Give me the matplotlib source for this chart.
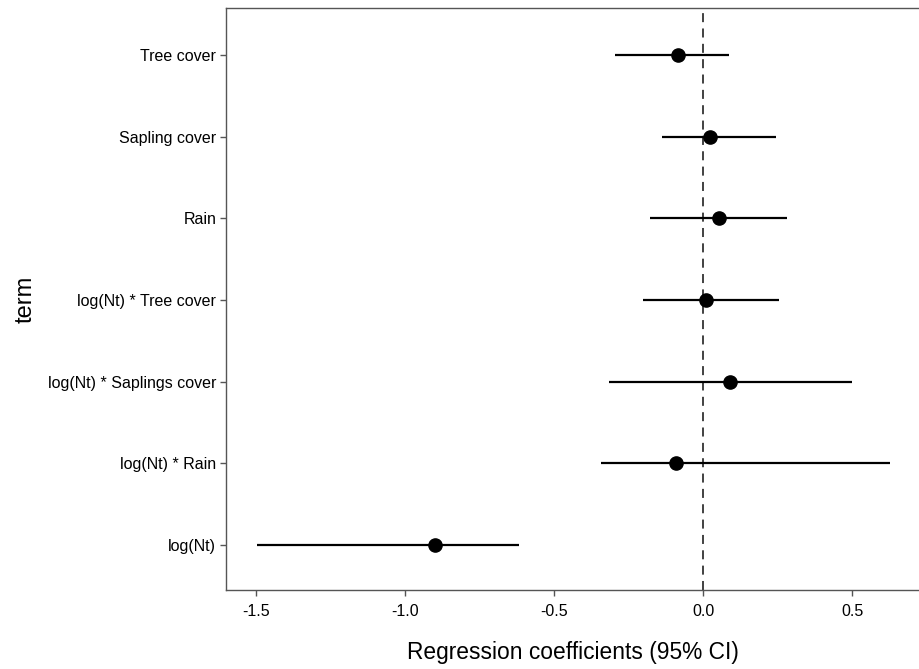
import numpy as np
import matplotlib.pyplot as plt

plt.rcParams['font.family'] = ['Liberation Sans', 'DejaVu Sans']

# termos e coeficientes (IC 95%)
termos = ["Tree cover", "Sapling cover", "Rain", "log(Nt) * Tree cover",
          "log(Nt) * Saplings cover", "log(Nt) * Rain", "log(Nt)"]
estimativa = [-0.084, 0.022, 0.054, 0.008, 0.089, -0.092, -0.901]
ic_inferior = [-0.296, -0.138, -0.178, -0.204, -0.315, -0.345, -1.497]
ic_superior = [0.087, 0.245, 0.281, 0.253, 0.499, 0.625, -0.619]

ticks_x = [-1.5, -1.0, -0.5, 0.0, 0.5]

fig = plt.figure(figsize=(9.19, 6.69), dpi=100)
ax = fig.add_axes([0.246, 0.118, 0.754, 0.870])

y = np.arange(len(termos))[::-1]
ax.axvline(0, color='#333333', linestyle=(0, (5, 3.5)), linewidth=1.3, zorder=1)
ax.hlines(y, ic_inferior, ic_superior, color='black', linewidth=1.6, zorder=2)
ax.plot(estimativa, y, 'o', color='black', markersize=9.5, zorder=3)

ax.set_xlim(-1.602, 0.724)
ax.set_ylim(-0.55, len(termos) - 1 + 0.575)
ax.set_yticks(y)
ax.set_yticklabels(termos)
ax.set_xticks(ticks_x)
ax.set_xticklabels(["-1.5", "-1.0", "-0.5", "0.0", "0.5"])

for s in ax.spines.values():
    s.set_color('#555555')
    s.set_linewidth(1.0)
ax.spines['right'].set_visible(False)  # imagem original cortada à direita
ax.tick_params(axis='both', colors='#555555', length=4, width=1.0,
               labelsize=11.5, labelcolor='black')
ax.tick_params(axis='x', pad=6)
ax.tick_params(axis='y', pad=3)

ax.set_xlabel("Regression coefficients (95% CI)", fontsize=16.4, labelpad=16)
ax.set_ylabel("term", fontsize=17, labelpad=8)

fig.savefig("out.png", dpi=100)
